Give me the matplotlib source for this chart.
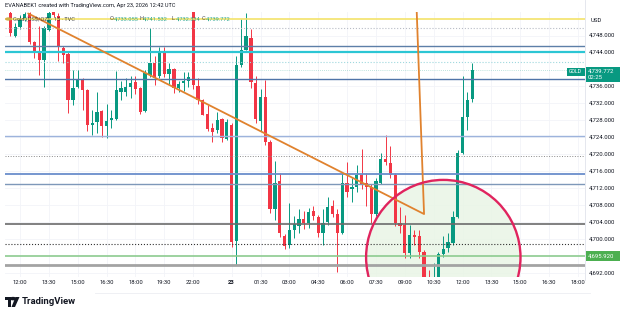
import matplotlib
matplotlib.use('Agg')
import matplotlib.pyplot as plt
from matplotlib.patches import Ellipse, Rectangle, Polygon, Circle
from matplotlib.transforms import blended_transform_factory as btf

plt.rcParams['font.family'] = ['Roboto', 'DejaVu Sans']

# ---------------- data ----------------
first_index = -2  # 11:30 on Apr 22 (index 0 = 12:00)
opens = [4753.4, 4748.0, 4750.0, 4751.9, 4753.2, 4746.4, 4744.0, 4742.2, 4749.4, 4753.5,
         4752.7, 4745.1, 4743.7, 4732.7, 4735.9, 4737.6, 4735.1, 4727.0, 4727.5, 4730.1,
         4726.6, 4728.0, 4728.3, 4734.8, 4734.8, 4735.9, 4737.0, 4735.6, 4730.1, 4738.8,
         4741.5, 4738.4, 4744.3, 4739.0, 4740.0, 4735.6, 4736.7, 4737.2, 4757.0, 4736.0,
         4732.7, 4729.6, 4726.2, 4725.8, 4728.2, 4723.6, 4727.0, 4699.6, 4741.1, 4744.7,
         4747.5, 4736.7, 4727.8, 4733.5, 4723.0, 4707.0, 4713.6, 4700.7, 4698.5, 4702.1,
         4703.1, 4704.8, 4703.9, 4706.5, 4705.2, 4701.5, 4704.1, 4707.8, 4705.9, 4701.5,
         4713.3, 4711.8, 4712.3, 4715.0, 4713.3, 4712.2, 4705.9, 4713.3, 4718.9, 4718.0,
         4715.2, 4703.7, 4703.3, 4696.7, 4700.9, 4700.8, 4697.0, 4689.5, 4688.0, 4690.5,
         4696.4, 4697.8, 4699.0, 4705.3, 4720.4, 4728.8, 4733.055]
highs = [4753.8, 4751.0, 4752.8, 4753.5, 4753.6, 4746.8, 4750.2, 4750.2, 4753.8, 4753.8,
         4753.4, 4745.5, 4744.3, 4739.8, 4739.8, 4738.0, 4735.5, 4730.5, 4734.6, 4730.5,
         4731.9, 4730.5, 4739.6, 4737.2, 4738.1, 4738.4, 4738.4, 4735.8, 4739.9, 4749.8,
         4743.2, 4745.2, 4745.3, 4741.6, 4740.3, 4737.3, 4739.5, 4739.5, 4757.5, 4738.0,
         4733.1, 4731.5, 4727.4, 4729.9, 4728.6, 4728.2, 4727.4, 4743.1, 4751.8, 4753.4,
         4749.6, 4738.5, 4735.4, 4737.4, 4723.4, 4718.3, 4715.6, 4701.3, 4708.6, 4705.4,
         4707.2, 4706.5, 4707.3, 4707.7, 4705.7, 4707.0, 4709.9, 4709.2, 4707.0, 4715.6,
         4718.1, 4714.4, 4717.5, 4721.2, 4715.6, 4713.0, 4714.4, 4720.4, 4724.6, 4722.0,
         4715.6, 4707.5, 4705.7, 4703.3, 4702.2, 4702.2, 4697.5, 4692.7, 4694.4, 4697.0,
         4700.7, 4701.5, 4706.5, 4721.0, 4738.4, 4734.8, 4741.532]
lows = [4748.0, 4747.6, 4749.5, 4751.5, 4746.0, 4742.7, 4738.8, 4735.9, 4749.0, 4752.3,
        4741.9, 4741.5, 4729.8, 4731.7, 4735.6, 4730.5, 4725.4, 4724.6, 4725.0, 4724.1,
        4723.8, 4726.2, 4728.1, 4732.9, 4733.8, 4733.3, 4734.2, 4729.6, 4729.9, 4738.3,
        4736.4, 4738.0, 4738.3, 4736.5, 4734.4, 4734.8, 4735.0, 4735.8, 4735.5, 4731.8,
        4729.2, 4725.6, 4723.0, 4725.0, 4723.0, 4723.4, 4698.1, 4693.9, 4740.6, 4744.5,
        4735.6, 4727.3, 4725.6, 4722.3, 4706.1, 4704.5, 4700.4, 4697.6, 4698.0, 4700.3,
        4701.5, 4702.3, 4702.6, 4704.5, 4700.6, 4698.6, 4703.3, 4705.2, 4692.3, 4701.2,
        4710.0, 4708.8, 4711.0, 4711.8, 4707.8, 4703.7, 4705.5, 4712.9, 4717.5, 4714.4,
        4703.0, 4701.5, 4695.5, 4695.5, 4698.6, 4695.5, 4688.0, 4686.0, 4687.0, 4690.0,
        4695.8, 4697.0, 4698.5, 4705.0, 4720.0, 4725.8, 4732.334]
closes = [4748.5, 4749.9, 4751.9, 4753.0, 4746.4, 4744.0, 4742.2, 4749.8, 4753.2, 4752.8,
          4745.3, 4743.3, 4732.7, 4735.6, 4737.4, 4735.2, 4727.0, 4727.4, 4729.9, 4726.6,
          4727.9, 4728.5, 4735.2, 4735.6, 4735.9, 4736.8, 4735.5, 4729.9, 4739.2, 4741.5,
          4738.0, 4743.9, 4739.0, 4740.0, 4735.6, 4736.6, 4737.3, 4738.2, 4736.4, 4732.9,
          4729.3, 4726.0, 4725.2, 4728.0, 4723.8, 4727.7, 4699.4, 4741.1, 4744.7, 4748.0,
          4737.0, 4728.2, 4733.5, 4723.0, 4707.0, 4713.3, 4701.5, 4698.3, 4702.1, 4703.6,
          4704.8, 4703.7, 4706.3, 4705.4, 4701.5, 4703.7, 4707.6, 4705.9, 4701.5, 4713.3,
          4711.2, 4712.3, 4715.0, 4712.8, 4712.3, 4705.9, 4713.6, 4718.9, 4718.1, 4715.2,
          4703.7, 4703.1, 4696.7, 4700.9, 4700.6, 4697.0, 4689.5, 4688.0, 4690.5, 4696.4,
          4697.6, 4699.2, 4705.3, 4720.4, 4728.8, 4732.9, 4739.772]

time_tick_index = [0, 6, 12, 18, 24, 30, 36, 44, 50, 56, 62, 68, 74, 80, 86, 92, 98, 104, 110, 116]
time_tick_labels = ['12:00', '13:30', '15:00', '16:30', '18:00', '19:30', '22:00', '23', '01:30',
                    '03:00', '04:30', '06:00', '07:30', '09:00', '10:30', '12:00', '13:30',
                    '15:00', '16:30', '18:00']
price_ticks = [4748, 4744, 4736, 4732, 4728, 4724, 4720, 4716, 4712, 4708, 4704, 4700, 4692]

# horizontal drawings: price, colour, width, style
level_prices = [4751.8, 4749.7, 4745.6, 4744.05, 4741.7, 4737.8, 4724.2, 4719.7, 4715.3,
                4713.0, 4703.5, 4698.8, 4695.92, 4693.9]
level_colors = ['#f3e36a', '#b8bcc6', '#5d7fa8', '#2cc6d4', '#9fd8de', '#4f74a8', '#9db3dc',
                '#8a8a8a', '#6a8ecb', '#7e98b9', '#6b6b6b', '#333333', '#8ccb8f', '#a3a3a3']
level_widths = [1.2, 0.8, 1.0, 1.6, 0.8, 1.0, 1.0, 0.7, 1.3, 1.0, 1.2, 0.8, 1.2, 2.0]
level_styles = ['-', ':', '-', '-', ':', '-', '-', ':', '-', '-', '-', ':', '-', '-']

trend_x = [1.7, 84.0, 82.4]
trend_y = [4753.2, 4705.9, 4756.0]

circle_center = (88.0, 4695.7)
circle_w = 32.1
circle_h = 36.5

last_price = 4739.772
alert_price = 4695.92

# ---------------- figure ----------------
W, H = 625, 319
fig = plt.figure(figsize=(W / 100, H / 100), dpi=100)
fig.patch.set_facecolor('white')


def fx(px):
    return px / W


def fy(py):
    return 1 - py / H


ax = fig.add_axes([fx(5), fy(277), fx(585) - fx(5), fy(12) - fy(277)])
ax.set_xlim(-3.12, 117.46)
ax.set_ylim(4691.05, 4753.55)
for s in ax.spines.values():
    s.set_visible(False)
ax.set_xticks([])
ax.set_yticks([])

# grid
for t in time_tick_index:
    ax.axvline(t, color='#f2f4f8', lw=0.6, zorder=0)
for p in price_ticks:
    ax.axhline(p, color='#f2f4f8', lw=0.6, zorder=0)

# circle fill
ax.add_patch(Ellipse(circle_center, circle_w, circle_h, facecolor='#e9f5e6', edgecolor='none',
                     alpha=0.85, zorder=0.5))

# candles
up_c, dn_c = '#089981', '#f23645'
idx = list(range(first_index, first_index + len(opens)))
for i, o, h, l, c in zip(idx, opens, highs, lows, closes):
    col = up_c if c >= o else dn_c
    ax.vlines(i, l, h, color=col, lw=0.7, zorder=2)
    bottom = min(o, c)
    height = max(abs(c - o), 0.25)
    ax.bar(i, height, bottom=bottom, width=0.68, color=col, zorder=2.1, linewidth=0)

# horizontal drawings
for p, col, lw, ls in zip(level_prices, level_colors, level_widths, level_styles):
    ax.axhline(p, color=col, lw=lw, ls=ls, zorder=3)
ax.axhline(last_price, color=up_c, lw=0.5, ls=(0, (1, 2)), alpha=0.5, zorder=3)

# trend lines
ax.plot(trend_x, trend_y, color='#e0822e', lw=1.3, zorder=3.5, solid_capstyle='round')

# circle edge
ax.add_patch(Ellipse(circle_center, circle_w, circle_h, facecolor='none', edgecolor='#e0245e',
                     lw=1.7, zorder=4))

# ---------------- price axis ----------------
ty = btf(fig.transFigure, ax.transData)
for p in price_ticks:
    fig.text(fx(589), 0, f'{p:,.3f}', transform=ty, fontsize=4.3, color='#131722',
             va='center', ha='left') if False else None
    ax.text(fx(589), p, f'{p:,.3f}', transform=ty, fontsize=4.3, color='#131722',
            va='center', ha='left', clip_on=False)
fig.text(fx(591), fy(21), 'USD', fontsize=4.3, color='#131722', va='center', ha='left')

# last price labels
fig.patches.append(Rectangle((fx(585.5), fy(81.5)), fx(34), fy(67) - fy(81.5),
                             transform=fig.transFigure, facecolor=up_c, edgecolor='none'))
fig.text(fx(588), fy(71), f'{last_price:,.3f}', fontsize=4.3, color='white', va='center', ha='left')
fig.text(fx(588), fy(77.8), '02:25', fontsize=4.3, color='white', va='center', ha='left')
fig.patches.append(Rectangle((fx(566.5), fy(75.5)), fx(18), fy(67.5) - fy(75.5),
                             transform=fig.transFigure, facecolor=up_c, edgecolor='none'))
fig.text(fx(575.5), fy(71.5), 'GOLD', fontsize=3.8, color='white', va='center', ha='center')

# alert label
ya = 36 + (4748 - alert_price) * 4.232
fig.patches.append(Rectangle((fx(585.5), fy(ya + 5)), fx(34), fy(ya - 5) - fy(ya + 5),
                             transform=fig.transFigure, facecolor='#4caf50', edgecolor='none'))
fig.text(fx(588), fy(ya), f'{alert_price:,.3f}', fontsize=4.3, color='white', va='center', ha='left')

# axis separators
fig.add_artist(plt.Line2D([fx(585), fx(585)], [fy(0), fy(280)], color='#e0e3eb', lw=0.6))
fig.add_artist(plt.Line2D([fx(95), fx(590)], [fy(293), fy(293)], color='#eceef2', lw=0.6))

# ---------------- time axis ----------------
tx = btf(ax.transData, fig.transFigure)
for t, lab in zip(time_tick_index, time_tick_labels):
    ax.text(t, fy(283), lab, transform=tx, fontsize=4.2, color='#131722', ha='center',
            va='center', clip_on=False, fontweight='bold' if lab == '23' else 'normal')

# ---------------- header ----------------
fig.text(fx(5), fy(6), 'EVANABEK1 created with TradingView.com, Apr 23, 2026 12:42 UTC',
         fontsize=4.1, color='#131722', va='center', ha='left')
fig.patches.append(Circle((fx(8.5), fy(19)), 0.0055, transform=fig.transFigure,
                          facecolor='#c9a33a', edgecolor='none', alpha=0.8))
fig.text(fx(13), fy(19), 'Gold (US$/OZ) · 15 · TVC', fontsize=4.1, color='#131722',
         alpha=0.75, va='center', ha='left', zorder=6)
ohlc_labels = ['O', 'H', 'L', 'C']
ohlc_values = [opens[-1], highs[-1], lows[-1], closes[-1]]
ohlc_x = [110, 139, 172, 202]
for lab, val, xp in zip(ohlc_labels, ohlc_values, ohlc_x):
    fig.text(fx(xp), fy(19), lab, fontsize=4.1, color='#131722', alpha=0.75,
             va='center', ha='left', zorder=6)
    fig.text(fx(xp + 3.5), fy(19), f'{val:,.3f}', fontsize=4.1, color=up_c, alpha=0.8,
             va='center', ha='left', zorder=6)

# ---------------- TradingView logo ----------------
logo = [
    Polygon([(fx(5), fy(297)), (fx(11), fy(297)), (fx(11), fy(307)), (fx(8), fy(307)),
             (fx(8), fy(300)), (fx(5), fy(300))], closed=True),
    Circle((fx(13), fy(298.6)), 0.0055),
    Polygon([(fx(15.5), fy(297)), (fx(19.5), fy(297)), (fx(15), fy(307)), (fx(11.5), fy(307))],
            closed=True),
]
for pch in logo:
    pch.set_transform(fig.transFigure)
    pch.set_facecolor('#131722')
    pch.set_edgecolor('none')
    fig.patches.append(pch)
fig.text(fx(22), fy(302), 'TradingView', fontsize=6.8, fontweight='bold', color='#131722',
         va='center', ha='left')

fig.savefig('out.png', dpi=100, facecolor='white')
